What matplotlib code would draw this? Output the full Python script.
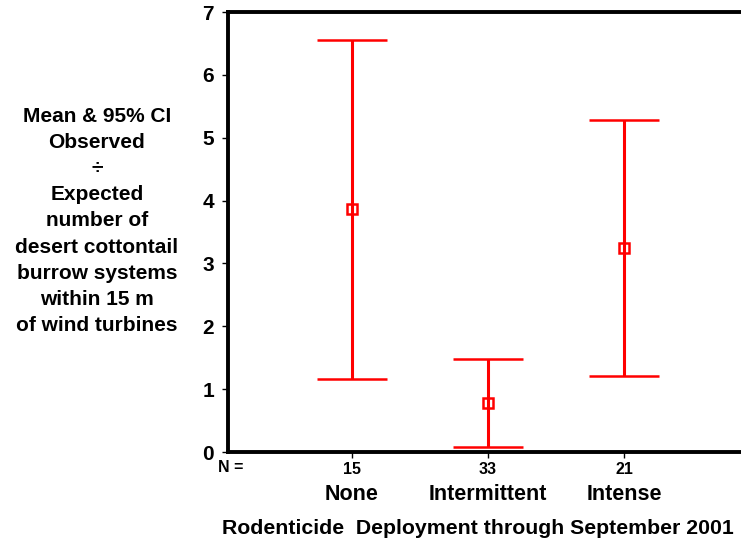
import matplotlib
matplotlib.use("Agg")
import matplotlib.pyplot as plt
import matplotlib.transforms as mtransforms

categories = ["None", "Intermittent", "Intense"]
n_values = ["15", "33", "21"]
means = [3.87, 0.78, 3.25]
upper = [6.55, 1.48, 5.28]
lower = [1.16, 0.08, 1.21]
y_ticks = [0, 1, 2, 3, 4, 5, 6, 7]

plt.rcParams['font.family'] = ['Liberation Sans', 'DejaVu Sans']
plt.rcParams['font.weight'] = 'bold'

W, H = 741, 545
fig = plt.figure(figsize=(W / 100, H / 100), dpi=100)
ax = fig.add_axes([228 / W, 1 - 452 / H, 520 / W, 440 / H])

xs = [1, 2, 3]
yerr = [[m - l for m, l in zip(means, lower)], [u - m for m, u in zip(means, upper)]]
ax.errorbar(xs, means, yerr=yerr, fmt='s', color='#ff0000', ecolor='#ff0000',
            mfc='none', mec='#ff0000', markersize=7.5, mew=1.8,
            elinewidth=2.2, capsize=25, capthick=2.2, zorder=3)

ax.set_xlim(0.088, 3.912)
ax.set_ylim(0, 7)
ax.set_yticks(y_ticks)
ax.set_yticklabels([str(t) for t in y_ticks], fontsize=15, fontweight='bold')
ax.tick_params(axis='y', length=4, width=1, pad=6)
ax.set_xticks(xs)
ax.set_xticklabels(n_values, fontsize=11.5, fontweight='bold')
ax.tick_params(axis='x', length=4, width=1, pad=3)

for s in ['left', 'top', 'bottom']:
    ax.spines[s].set_linewidth(2.8)
ax.spines['right'].set_visible(False)

trans = mtransforms.blended_transform_factory(ax.transData, fig.transFigure)
for x, c in zip(xs, categories):
    ax.text(x, 1 - 495 / H, c, transform=trans, ha='center', va='center',
            fontsize=15.5, fontweight='bold')

fig.text(231 / W, 1 - 467 / H, "N =", ha='center', va='center', fontsize=11.5, fontweight='bold')
fig.text(478 / W, 1 - 529 / H, "Rodenticide  Deployment through September 2001",
         ha='center', va='center', fontsize=15.3, fontweight='bold')

fig.text(97 / W, 1 - 221 / H,
         "Mean & 95% CI\nObserved\n÷\nExpected\nnumber of\ndesert cottontail\nburrow systems\nwithin 15 m\nof wind turbines",
         ha='center', va='center', fontsize=15, fontweight='bold', linespacing=1.47)

fig.savefig("out.png", dpi=100)
